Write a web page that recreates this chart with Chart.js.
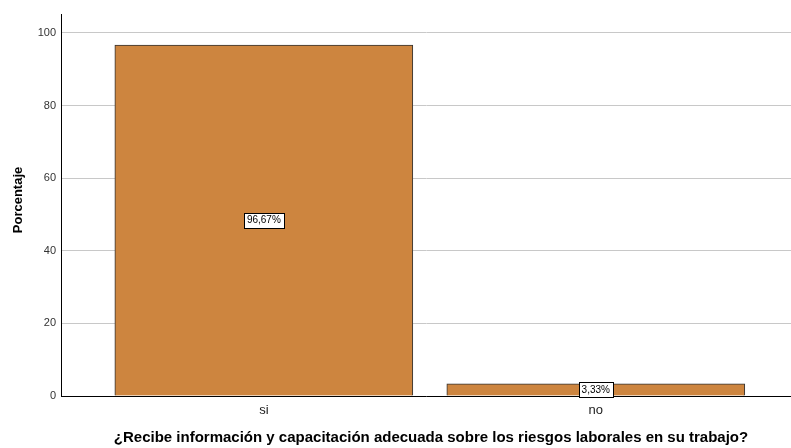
<!DOCTYPE html>
<html>
<head>
<meta charset="utf-8">
<script src="https://cdn.jsdelivr.net/npm/chart.js@4/dist/chart.umd.min.js"></script>
<style>
html,body{margin:0;padding:0;background:#fff;overflow:hidden;}
#wrap{width:791px;height:448px;position:relative;}
</style>
</head>
<body>
<div id="wrap"><canvas id="c" width="791" height="448"></canvas></div>
<script>
const categories = ['si', 'no'];
const percentages = [96.67, 3.33];
const valueLabels = ['96,67%', '3,33%'];
const yTickValues = [0, 20, 40, 60, 80, 100];
const xTitle = '¿Recibe información y capacitación adecuada sobre los riesgos laborales en su trabajo?';
const yTitle = 'Porcentaje';

const points = categories.map((c, i) => ({ x: i, y: percentages[i] }));

const labelPlugin = {
  id: 'boxLabels',
  afterDatasetsDraw(chart) {
    const ctx = chart.ctx;
    const meta = chart.getDatasetMeta(0);
    ctx.save();
    ctx.font = '10px "Liberation Sans", Arial, sans-serif';
    ctx.textAlign = 'center';
    ctx.textBaseline = 'middle';
    meta.data.forEach((bar, i) => {
      const t = valueLabels[i];
      const cx = bar.x;
      const cy = (bar.y + bar.base) / 2;
      const w = Math.round(ctx.measureText(t).width + 6);
      const h = 15;
      const x0 = Math.round(cx - w / 2) + 0.5;
      const y0 = Math.round(cy - h / 2) + 0.5;
      ctx.fillStyle = '#fff';
      ctx.fillRect(x0, y0, w, h);
      ctx.strokeStyle = '#000';
      ctx.lineWidth = 1;
      ctx.strokeRect(x0, y0, w, h);
      ctx.fillStyle = '#000';
      ctx.fillText(t, cx, cy + 0.5);
    });
    ctx.restore();
  }
};

const titlesPlugin = {
  id: 'titles',
  afterDraw(chart) {
    const ctx = chart.ctx;
    const xs = chart.scales.x;
    ctx.save();
    ctx.fillStyle = '#000';
    ctx.textAlign = 'center';
    ctx.textBaseline = 'middle';
    ctx.font = 'bold 15px "Liberation Sans", Arial, sans-serif';
    ctx.fillText(xTitle, (xs.left + xs.right) / 2 + 5, xs.bottom - 10);
    ctx.translate(18, 200);
    ctx.rotate(-Math.PI / 2);
    ctx.font = 'bold 13px "Liberation Sans", Arial, sans-serif';
    ctx.fillText(yTitle, 0, 0);
    ctx.restore();
  }
};

new Chart(document.getElementById('c'), {
  type: 'bar',
  data: {
    datasets: [{
      data: points,
      backgroundColor: '#CD853F',
      borderColor: '#333333',
      borderWidth: 1,
      barThickness: 298
    }]
  },
  options: {
    responsive: false,
    animation: false,
    layout: { padding: { top: 14, right: 0, left: 0, bottom: 0 } },
    plugins: { legend: { display: false }, tooltip: { enabled: false } },
    scales: {
      x: {
        type: 'linear',
        offset: false,
        min: -0.611,
        max: 1.588,
        afterBuildTicks(scale) { scale.ticks = categories.map((c, i) => ({ value: i })); },
        afterFit(scale) { scale.height = 52; },
        grid: { display: false, drawTicks: false, offset: false },
        border: { display: true, color: '#000', width: 1 },
        ticks: {
          callback: (v) => categories[v] !== undefined ? categories[v] : '',
          color: '#222',
          font: { family: '"Liberation Sans", Arial, sans-serif', size: 13 },
          padding: 7,
          maxRotation: 0,
          autoSkip: false
        },
        title: { display: false }
      },
      y: {
        min: 0,
        max: 105.2,
        afterBuildTicks(scale) { scale.ticks = yTickValues.map(v => ({ value: v })); },
        afterFit(scale) { scale.width = 61; },
        grid: { color: '#c8c8c8', lineWidth: 1, drawTicks: false },
        border: { display: true, color: '#000', width: 1 },
        ticks: {
          color: '#333',
          font: { family: '"Liberation Sans", Arial, sans-serif', size: 11 },
          padding: 5
        },
        title: { display: false }
      }
    }
  },
  plugins: [labelPlugin, titlesPlugin]
});
</script>
</body>
</html>
